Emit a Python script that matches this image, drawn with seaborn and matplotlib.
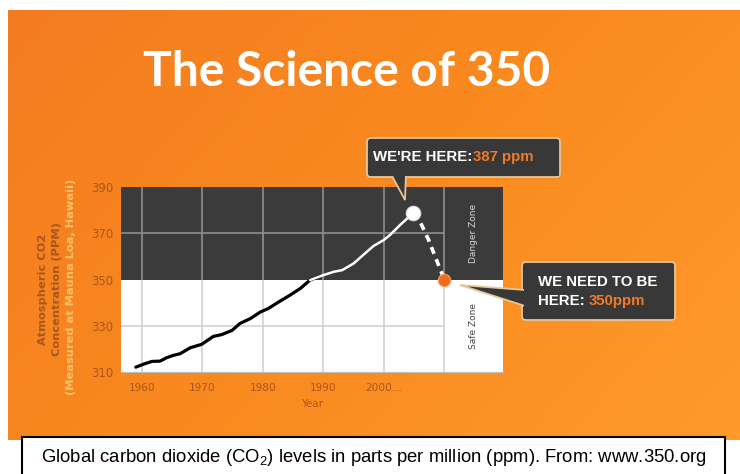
import numpy as np
import matplotlib
matplotlib.use("Agg")
import matplotlib.pyplot as plt
import seaborn as sns
from matplotlib.patches import FancyBboxPatch, Polygon, Rectangle
from matplotlib.colors import LinearSegmentedColormap

# values
years = [1959.0, 1960.5, 1961.7, 1963.0, 1964.1, 1965.2, 1966.3, 1968.0, 1969.9, 1971.8,
         1973.2, 1974.9, 1976.2, 1977.9, 1979.6, 1980.9, 1982.6, 1984.5, 1986.2, 1987.8,
         1989.5, 1991.7, 1993.1, 1995.0, 1996.9, 1998.3, 2000.0, 2001.0, 2002.7, 2004.9]
co2_ppm = [312.1, 313.6, 314.6, 314.7, 316.2, 317.2, 317.9, 320.5, 322.0, 325.4,
           326.2, 328.0, 331.0, 333.1, 336.0, 337.5, 340.3, 343.3, 346.2, 349.8,
           351.5, 353.4, 354.1, 357.0, 361.4, 364.6, 367.2, 369.3, 373.7, 379.0]
proj_years = [2004.9, 2006.0, 2007.4, 2008.5, 2010.0]
proj_ppm = [379.0, 375.1, 367.2, 359.9, 350.0]
safe_limit = 350
current_label = "387 ppm"
target_label = "350ppm"
y_ticks = [310, 330, 350, 370, 390]
x_ticks = [1960, 1970, 1980, 1990, 2000]
x_tick_labels = ["1960", "1970", "1980", "1990", "2000..."]
grid_years = [1960, 1970, 1980, 1990, 2000, 2010]

BROWN = "#A9561E"
ORANGE_TXT = "#F07A28"
DARK = "#3b3b3b"
BOX = "#383838"
BORDER = "#E8C59A"

sns.set_style("white")
plt.rcParams["font.family"] = ["DejaVu Sans"]

W, H = 740, 474
fig = plt.figure(figsize=(7.4, 4.74), dpi=100, facecolor="white")


def fx(x):
    return x / W


def fy(y):
    return 1 - y / H


# orange backdrop
bg = fig.add_axes([fx(8), fy(440), fx(740) - fx(8), fy(10) - fy(440)], zorder=0)
cmap = LinearSegmentedColormap.from_list("org", ["#F47C20", "#F98A1F", "#FF9A2C"])
gx, gy = np.meshgrid(np.linspace(0, 1, 200), np.linspace(0, 1, 120))
bg.imshow(0.65 * gx + 0.35 * gy, cmap=cmap, aspect="auto", extent=[0, 1, 0, 1])
bg.axis("off")

# main chart
ax = fig.add_axes([fx(120.7), fy(372), fx(503) - fx(120.7), fy(187.3) - fy(372)], zorder=2)
ax.set_facecolor("white")
ax.set_xlim(1956.5, 2019.7)
ax.set_ylim(310, 390)
ax.axhspan(safe_limit, 390, color=DARK, lw=0, zorder=0)
for g in grid_years:
    ax.vlines(g, 310, safe_limit, color="#d2d2d2", lw=1.2, zorder=1)
    ax.vlines(g, safe_limit, 390, color="#8e8e8e", lw=1.2, zorder=1)
ax.hlines(330, 1956.5, 2010, color="#d2d2d2", lw=1.2, zorder=1)
ax.hlines(370, 1956.5, 2010, color="#8e8e8e", lw=1.2, zorder=1)

k = next(i for i, v in enumerate(co2_ppm) if v > safe_limit)
sns.lineplot(x=years[:k + 1], y=co2_ppm[:k + 1], color="black", lw=2.3, ax=ax, zorder=4)
sns.lineplot(x=years[k - 1:], y=co2_ppm[k - 1:], color="white", lw=1.8, ax=ax, zorder=4)
sns.lineplot(x=proj_years, y=proj_ppm, color="white", lw=2.6, ax=ax, zorder=4,
             linestyle=(0, (2.0, 1.6)))
sns.scatterplot(x=proj_years[:1], y=proj_ppm[:1], s=110, color="white",
                edgecolor="#d8d8d8", linewidth=0.8, ax=ax, zorder=6)
sns.scatterplot(x=proj_years[-1:], y=proj_ppm[-1:], s=80, color="#F26B1D",
                edgecolor="#F6A464", linewidth=0.8, ax=ax, zorder=6)

ax.text(2014.85, 370, "Danger Zone", rotation=90, ha="center", va="center",
        color="#d9d9d9", fontsize=6.5)
ax.text(2014.85, 330, "Safe Zone", rotation=90, ha="center", va="center",
        color="#444444", fontsize=6.5)

ax.set_yticks(y_ticks)
ax.set_yticklabels([str(t) for t in y_ticks], fontsize=8.5, color=BROWN)
ax.set_xticks(x_ticks)
ax.set_xticklabels(x_tick_labels, fontsize=7.6, color=BROWN)
ax.tick_params(axis="both", length=0)
ax.tick_params(axis="y", pad=5)
ax.tick_params(axis="x", pad=8)
ax.set_xlabel("Year", fontsize=7.5, color=BROWN, labelpad=4)
ax.set_ylabel("")
for s in ["top", "left", "right"]:
    ax.spines[s].set_visible(False)
ax.spines["bottom"].set_color("#bdbdbd")

# y axis label lines
fig.text(fx(43), fy(289), "Atmospheric CO2", rotation=90, ha="center", va="center",
         color=BROWN, fontsize=8.2, fontweight="bold")
fig.text(fx(57), fy(289), "Concentration (PPM)", rotation=90, ha="center", va="center",
         color=BROWN, fontsize=8.2, fontweight="bold")
fig.text(fx(71.5), fy(287), "(Measured at Mauna Loa, Hawaii)", rotation=90, ha="center",
         va="center", color="#F6C26B", fontsize=8.2, fontweight="bold")

# title
fig.text(0.468, fy(72), "The Science of 350", color="white", fontsize=34.5,
         fontweight="bold", family="Lato", ha="center", va="center")

# overlay for callouts and caption (pixel coordinates)
ov = fig.add_axes([0, 0, 1, 1], zorder=5)
ov.set_xlim(0, W)
ov.set_ylim(H, 0)
ov.axis("off")


def callout(x, y, w, h, tail):
    ov.add_patch(FancyBboxPatch((x, y), w, h, boxstyle="round,pad=0,rounding_size=4",
                                fc=BOX, ec=BORDER, lw=1.3, zorder=1))
    ov.add_patch(Polygon(tail, closed=True, fc=BOX, ec=BORDER, lw=1.3, zorder=2))
    ov.add_patch(Rectangle((x + 1.5, y + 1.5), w - 3, h - 3, fc=BOX, lw=0, zorder=3))


callout(367, 138, 193, 39, [(391, 174), (406, 174), (405, 200)])
callout(522, 262, 153, 58, [(525, 290), (460, 285), (525, 306)])

fig.canvas.draw()
renderer = fig.canvas.get_renderer()


def two_tone(x, y, first, second, gap):
    t = ov.text(x, y, first, color="white", fontsize=10.8, fontweight="bold",
                family="Liberation Sans", va="center", ha="left", zorder=4)
    bb = t.get_window_extent(renderer)
    x_end = ov.transData.inverted().transform((bb.x1, bb.y0))[0]
    ov.text(x_end + gap, y, second, color=ORANGE_TXT, fontsize=10.8, fontweight="bold",
            family="Liberation Sans", va="center", ha="left", zorder=4)


two_tone(373, 157, "WE'RE HERE:", current_label, 1)
ov.text(538, 282, "WE NEED TO BE", color="white", fontsize=10.8, fontweight="bold",
        family="Liberation Sans", va="center", ha="left", zorder=4)
two_tone(538, 301, "HERE:", target_label, 4)

# caption
ov.add_patch(Rectangle((22, 437), 703, 45, fc="white", ec="black", lw=1.5, zorder=1))
ov.text(373.5, 458, r"Global carbon dioxide (CO$_\mathregular{2}$) levels in parts per million (ppm). From: www.350.org",
        fontsize=13.3, family="Liberation Sans", color="black", ha="center", va="center", zorder=2)

fig.savefig("out.png", dpi=100, facecolor="white")
